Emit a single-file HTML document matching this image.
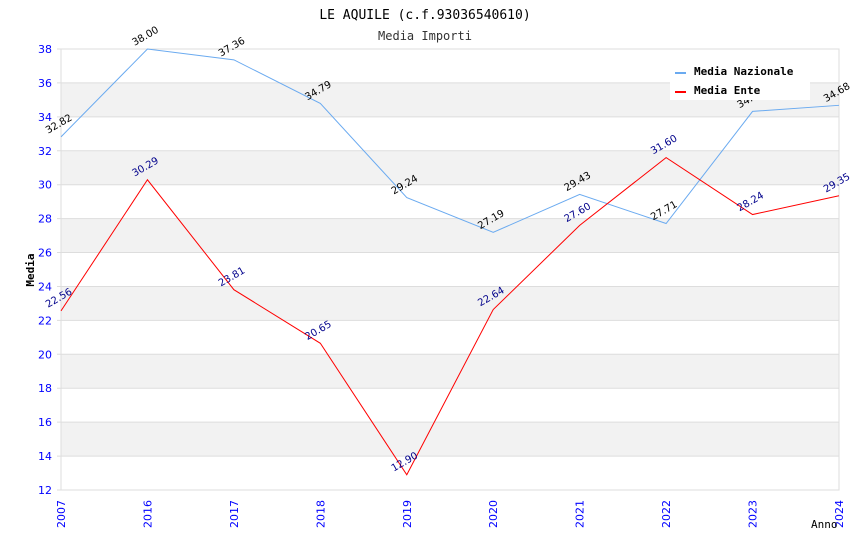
<!DOCTYPE html>
<html><head><meta charset="utf-8"><style>
body{margin:0;background:#fff}
svg text{font-family:"DejaVu Sans Mono","Liberation Mono",monospace}
svg text.s{font-family:"DejaVu Sans","Liberation Sans",sans-serif}
</style></head><body>
<svg id="chart" width="850" height="550" xmlns="http://www.w3.org/2000/svg">
<text x="425" y="19" text-anchor="middle" font-size="13" fill="#000">LE AQUILE (c.f.93036540610)</text>
<text x="425" y="40" text-anchor="middle" font-size="12" fill="#333">Media Importi</text>
<g id="grid"></g><g id="axes"></g><g id="series"></g>
<text transform="translate(34,270) rotate(-90)" text-anchor="middle" font-size="11" font-weight="bold">Media</text>
<text x="811" y="528" font-size="11">Anno</text>
<g>
<rect x="670" y="62" width="140" height="38" fill="#fff"/>
<line x1="675" y1="73" x2="686" y2="73" stroke="#6aaaf0" stroke-width="2"/>
<text x="694" y="75" font-size="11" font-weight="bold">Media Nazionale</text>
<line x1="675" y1="92" x2="686" y2="92" stroke="#f00" stroke-width="2"/>
<text x="694" y="94" font-size="11" font-weight="bold">Media Ente</text>
</g>
</svg>
<script>
const categories=["2007","2016","2017","2018","2019","2020","2021","2022","2023","2024"];
const nazionale=[32.82,38.00,37.36,34.79,29.24,27.19,29.43,27.71,34.32,34.68];
const ente=[22.56,30.29,23.81,20.65,12.90,22.64,27.60,31.60,28.24,29.35];
const yTicks=[12,14,16,18,20,22,24,26,28,30,32,34,36,38];
const NS="http://www.w3.org/2000/svg";
const L=61,R=839,T=49,B=490,YMIN=12,YMAX=38;
const x=i=>L+i*(R-L)/(categories.length-1);
const y=v=>B-(v-YMIN)*(B-T)/(YMAX-YMIN);
function mk(tag,attrs,parent){const e=document.createElementNS(NS,tag);for(const k in attrs)e.setAttribute(k,attrs[k]);parent.appendChild(e);return e;}
const grid=document.getElementById('grid'),axes=document.getElementById('axes'),ser=document.getElementById('series');
for(let v=14;v<38;v+=4){const r=mk('rect',{x:L,y:y(v+2),width:R-L,height:y(v)-y(v+2),fill:'#f2f2f2'},grid);

}
yTicks.forEach(v=>{const l=mk('line',{x1:L-4,x2:R,y1:y(v),y2:y(v),stroke:'#ddd'},grid);


const t=mk('text',{class:'s',x:L-9,y:y(v)+4,'text-anchor':'end','font-size':11,fill:'#00f'},axes);t.textContent=v;

});
mk('rect',{x:L,y:T,width:R-L,height:B-T,fill:'none',stroke:'#ddd'},axes);
categories.forEach((c,i)=>{const t=mk('text',{class:'s',transform:`translate(${x(i)+4},${B+38}) rotate(-90)`,'font-size':11,fill:'#00f'},axes);t.textContent=c;

});
function series(vals,color,lblColor,name){
const p=mk('polyline',{points:vals.map((v,i)=>x(i)+','+y(v)).join(' '),fill:'none',stroke:color,'stroke-width':1},ser);


vals.forEach((v,i)=>{const t=mk('text',{class:'s',transform:`translate(${x(i)-13},${y(v)-3}) rotate(-30)`,'font-size':10,fill:lblColor},ser);t.textContent=v.toFixed(2);

});}
series(nazionale,'#6aaaf0','#000','nazionale');
series(ente,'#f00','#00008b','ente');
</script>
</body></html>
